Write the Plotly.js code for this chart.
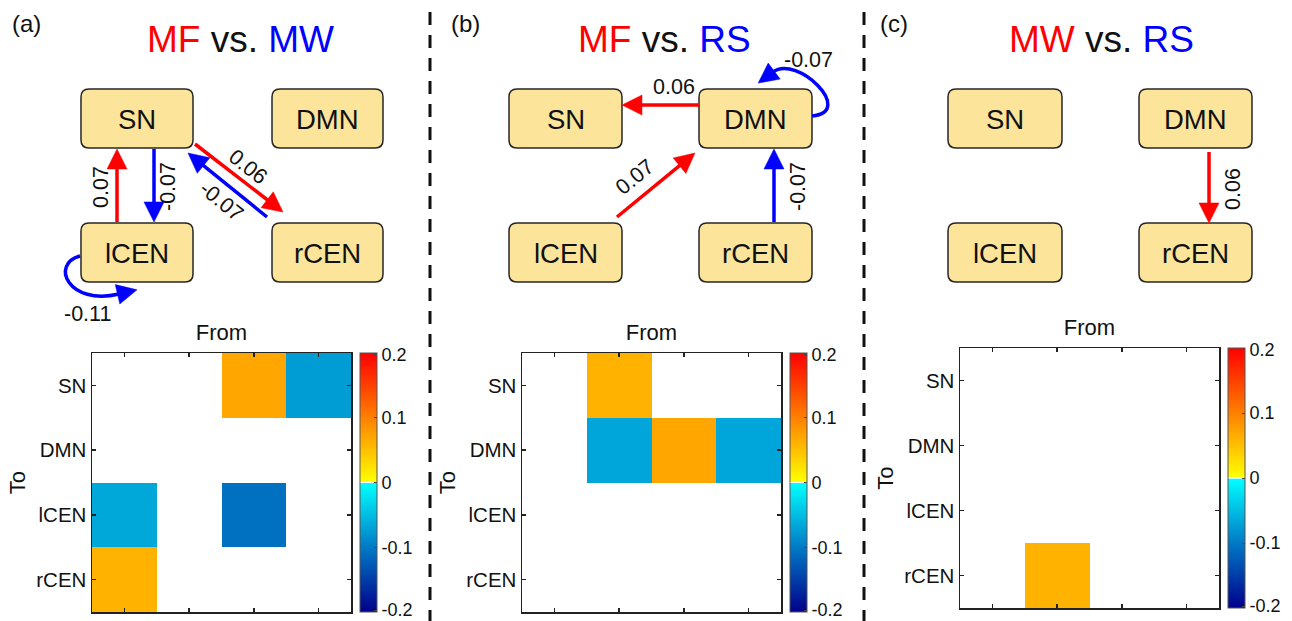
<!DOCTYPE html>
<html><head><meta charset="utf-8">
<script src="https://cdn.plot.ly/plotly-3.0.1.min.js"></script>
<style>html,body{margin:0;padding:0;background:#fff}</style>
</head><body><div id="chart" style="width:1292px;height:621px"></div>
<script>
// ---------------- DATA ----------------
const networks = ['SN', 'DMN', 'lCEN', 'rCEN'];
const panelTags = ['(a)', '(b)', '(c)'];
const condRed = ['MF', 'MF', 'MW'];
const condBlue = ['MW', 'RS', 'RS'];
// effective connectivity differences (from -> to : value)
const fromA = ['lCEN', 'SN', 'SN', 'rCEN', 'lCEN'];
const toA   = ['SN', 'lCEN', 'rCEN', 'SN', 'lCEN'];
const valA  = [0.07, -0.066, 0.06, -0.074, -0.108];
const fromB = ['DMN', 'DMN', 'lCEN', 'rCEN'];
const toB   = ['SN', 'DMN', 'DMN', 'DMN'];
const valB  = [0.06, -0.067, 0.07, -0.067];
const fromC = ['DMN'];
const toC   = ['rCEN'];
const valC  = [0.06];
const cbTickVals = [-0.197, -0.1, 0, 0.1, 0.197];
const cbTickText = ['-0.2', '-0.1', '0', '0.1', '0.2'];

// ---------------- LAYOUT CONSTANTS (pixels) ----------------
const W = 1292, H = 621;
const X = p => p / W, Y = p => 1 - p / H;
const FONT = 'Liberation Sans, Arial, Helvetica, sans-serif';
const RED = '#ff0000', BLUE = '#0000ff';

const panels = [
  { tag: [27, 24], title: [240.5, 40],
    boxes: { SN: [81, 89, 193, 148], DMN: [272, 89, 383, 148], lCEN: [81, 223, 193, 282], rCEN: [272, 223, 383, 282] },
    hm: [92, 353, 351, 612], cb: 360,
    geom: {
      'lCEN>SN':  { t: [117, 222], h: [117, 149], lab: [101, 187], ang: -90 },
      'SN>lCEN':  { t: [154, 149], h: [154, 222], lab: [168, 187], ang: -90 },
      'SN>rCEN':  { t: [195, 144], h: [283, 212], lab: [248, 167], ang: 38 },
      'rCEN>SN':  { t: [267, 217], h: [188, 153], lab: [221, 201], ang: 39 },
      'lCEN>lCEN': { loop: [[80, 256], [50, 264], [68, 306], [119, 294]], lab: [87, 314], ang: 0 }
    } },
  { tag: [465, 24], title: [664.5, 40],
    boxes: { SN: [509, 89, 622, 148], DMN: [699, 89, 812, 148], lCEN: [509, 223, 622, 282], rCEN: [699, 223, 812, 282] },
    hm: [522, 353, 781, 612], cb: 790,
    geom: {
      'DMN>SN':   { t: [699, 105], h: [622, 105], lab: [674, 87], ang: 0 },
      'DMN>DMN':  { loop: [[812, 116], [856, 112], [797, 54], [773, 72]], lab: [808, 60], ang: 0 },
      'lCEN>DMN': { t: [617, 217], h: [695, 153], lab: [635, 177], ang: -39 },
      'rCEN>DMN': { t: [774, 222], h: [774, 149], lab: [798, 187], ang: -90 }
    } },
  { tag: [894, 24], title: [1101.5, 40],
    boxes: { SN: [948, 89, 1062, 148], DMN: [1139, 89, 1252, 148], lCEN: [948, 223, 1062, 282], rCEN: [1139, 223, 1252, 282] },
    hm: [960, 348, 1219, 608], cb: 1228,
    geom: {
      'DMN>rCEN': { t: [1209, 152], h: [1209, 223], lab: [1233, 189], ang: -90 }
    } }
];
const edgeSets = [[fromA, toA, valA], [fromB, toB, valB], [fromC, toC, valC]];

// ---------------- helpers ----------------
function P(x, y) { return X(x).toFixed(5) + ',' + Y(y).toFixed(5); }
function rrect(b, r) {
  const [x0, y0, x1, y1] = b;
  return 'M' + P(x0 + r, y0) + ' L' + P(x1 - r, y0) + ' Q' + P(x1, y0) + ' ' + P(x1, y0 + r) +
    ' L' + P(x1, y1 - r) + ' Q' + P(x1, y1) + ' ' + P(x1 - r, y1) +
    ' L' + P(x0 + r, y1) + ' Q' + P(x0, y1) + ' ' + P(x0, y1 - r) +
    ' L' + P(x0, y0 + r) + ' Q' + P(x0, y0) + ' ' + P(x0 + r, y0) + ' Z';
}
const HL = 20, HW = 20, LW = 3.5;
function head(bx, by, ux, uy, color) {
  const tx = bx + ux * HL, ty = by + uy * HL;
  return { type: 'path', xref: 'paper', yref: 'paper',
    path: 'M' + P(tx, ty) + ' L' + P(bx - uy * HW / 2, by + ux * HW / 2) + ' L' + P(bx + uy * HW / 2, by - ux * HW / 2) + ' Z',
    fillcolor: color, line: { color: color, width: 0.5 } };
}
function straightArrow(t, h, color) {
  const dx = h[0] - t[0], dy = h[1] - t[1], d = Math.hypot(dx, dy);
  const ux = dx / d, uy = dy / d;
  const bx = h[0] - ux * HL, by = h[1] - uy * HL;
  return [
    { type: 'path', xref: 'paper', yref: 'paper', path: 'M' + P(t[0], t[1]) + ' L' + P(bx + ux * 2, by + uy * 2),
      line: { color: color, width: LW } },
    head(bx, by, ux, uy, color)
  ];
}
function loopArrow(pts, color) {
  const [p0, p1, p2, p3] = pts;
  const dx = p3[0] - p2[0], dy = p3[1] - p2[1], d = Math.hypot(dx, dy);
  return [
    { type: 'path', xref: 'paper', yref: 'paper',
      path: 'M' + P(p0[0], p0[1]) + ' C' + P(p1[0], p1[1]) + ' ' + P(p2[0], p2[1]) + ' ' + P(p3[0], p3[1]),
      fillcolor: 'rgba(0,0,0,0)', line: { color: color, width: LW } },
    head(p3[0] - dx / d * 1.5, p3[1] - dy / d * 1.5, dx / d, dy / d, color)
  ];
}

const colorscale = [
  [0, 'rgb(0,0,140)'], [0.25, 'rgb(0,122,198)'], [0.497, 'rgb(0,255,255)'],
  [0.4985, 'rgb(255,255,255)'], [0.5015, 'rgb(255,255,255)'],
  [0.503, 'rgb(255,255,0)'], [0.75, 'rgb(255,128,0)'], [1, 'rgb(255,0,0)']
];

const traces = [], shapes = [], annotations = [];
const layout = {
  width: W, height: H, margin: { l: 0, r: 0, t: 0, b: 0 },
  paper_bgcolor: '#fff', plot_bgcolor: '#fff', showlegend: false,
  font: { family: FONT, color: '#111' }
};

panels.forEach((pn, i) => {
  const [fr, to, vals] = edgeSets[i];
  // heatmap matrix (rows = To, cols = From)
  const z = networks.map(() => networks.map(() => null));
  fr.forEach((f, k) => { z[networks.indexOf(to[k])][networks.indexOf(f)] = vals[k]; });
  const sfx = i === 0 ? '' : String(i + 1);
  const xa = 'xaxis' + sfx, ya = 'yaxis' + sfx;
  const [hx0, hy0, hx1, hy1] = pn.hm;
  traces.push({
    type: 'heatmap', x: networks, y: networks, z: z, xaxis: 'x' + sfx, yaxis: 'y' + sfx,
    zmin: -0.2, zmax: 0.2, colorscale: colorscale, hoverinfo: 'skip',
    colorbar: {
      x: X(pn.cb), xanchor: 'left', xpad: 0, ypad: 0,
      y: Y((hy0 + hy1) / 2), yanchor: 'middle',
      thickness: 17, thicknessmode: 'pixels', len: hy1 - hy0, lenmode: 'pixels',
      outlinewidth: 1, outlinecolor: '#555',
      tickmode: 'array', tickvals: cbTickVals, ticktext: cbTickText,
      ticks: 'inside', ticklen: 3, tickcolor: '#444', ticklabeloverflow: 'allow',
      tickfont: { size: 18, family: FONT, color: '#111' }
    }
  });
  layout[xa] = {
    domain: [X(hx0), X(hx1)], anchor: 'y' + sfx, side: 'top', type: 'category',
    showline: true, mirror: 'ticks', linecolor: '#222', linewidth: 1.5,
    ticks: 'inside', ticklen: 4, tickwidth: 1.5, tickcolor: '#222',
    showticklabels: false, showgrid: false, zeroline: false, fixedrange: true, automargin: false,
    title: { text: 'From', font: { size: 22, family: FONT, color: '#111' }, standoff: 5 }
  };
  layout[ya] = {
    domain: [Y(hy1), Y(hy0)], anchor: 'x' + sfx, type: 'category', autorange: 'reversed',
    showline: true, mirror: 'ticks', linecolor: '#222', linewidth: 1.5,
    ticks: 'inside', ticklen: 4, tickwidth: 1.5, tickcolor: '#222',
    tickfont: { size: 20.5, family: FONT, color: '#111' }, ticklabelstandoff: 0,
    showgrid: false, zeroline: false, fixedrange: true, automargin: false,
    title: { text: 'To', font: { size: 22, family: FONT, color: '#111' }, standoff: 4 }
  };

  // panel tag and title
  annotations.push({ xref: 'paper', yref: 'paper', x: X(pn.tag[0]), y: Y(pn.tag[1]), xanchor: 'center', yanchor: 'middle',
    showarrow: false, text: panelTags[i], font: { size: 24, family: FONT, color: '#111' } });
  annotations.push({ xref: 'paper', yref: 'paper', x: X(pn.title[0]), y: Y(pn.title[1]), xanchor: 'center', yanchor: 'middle',
    showarrow: false,
    text: '<span style="color:' + RED + '">' + condRed[i] + '</span> vs. <span style="color:' + BLUE + '">' + condBlue[i] + '</span>',
    font: { size: 37, family: FONT, color: '#111' } });

  // node boxes
  networks.forEach(n => {
    const b = pn.boxes[n];
    shapes.push({ type: 'path', xref: 'paper', yref: 'paper', path: rrect(b, 8),
      fillcolor: '#fce49b', line: { color: '#262626', width: 1.5 } });
    annotations.push({ xref: 'paper', yref: 'paper', x: X((b[0] + b[2]) / 2), y: Y((b[1] + b[3]) / 2 + 1),
      xanchor: 'center', yanchor: 'middle', showarrow: false, text: n,
      font: { size: 27.5, family: FONT, color: '#111' } });
  });

  // edges
  fr.forEach((f, k) => {
    const g = pn.geom[f + '>' + to[k]];
    const col = vals[k] > 0 ? RED : BLUE;
    const s = g.loop ? loopArrow(g.loop, col) : straightArrow(g.t, g.h, col);
    s.forEach(o => shapes.push(o));
    annotations.push({ xref: 'paper', yref: 'paper', x: X(g.lab[0]), y: Y(g.lab[1]), xanchor: 'center', yanchor: 'middle',
      showarrow: false, textangle: g.ang, text: vals[k].toFixed(2),
      font: { size: 21.5, family: FONT, color: '#111' } });
  });
});

// dashed separators
[430, 864].forEach(xp => {
  shapes.push({ type: 'line', xref: 'paper', yref: 'paper', x0: X(xp), x1: X(xp), y0: Y(12), y1: Y(621),
    line: { color: '#111', width: 3, dash: '13px,10px' } });
});

layout.shapes = shapes;
layout.annotations = annotations;
Plotly.newPlot('chart', traces, layout, { staticPlot: true, displayModeBar: false });
</script>
</body></html>
